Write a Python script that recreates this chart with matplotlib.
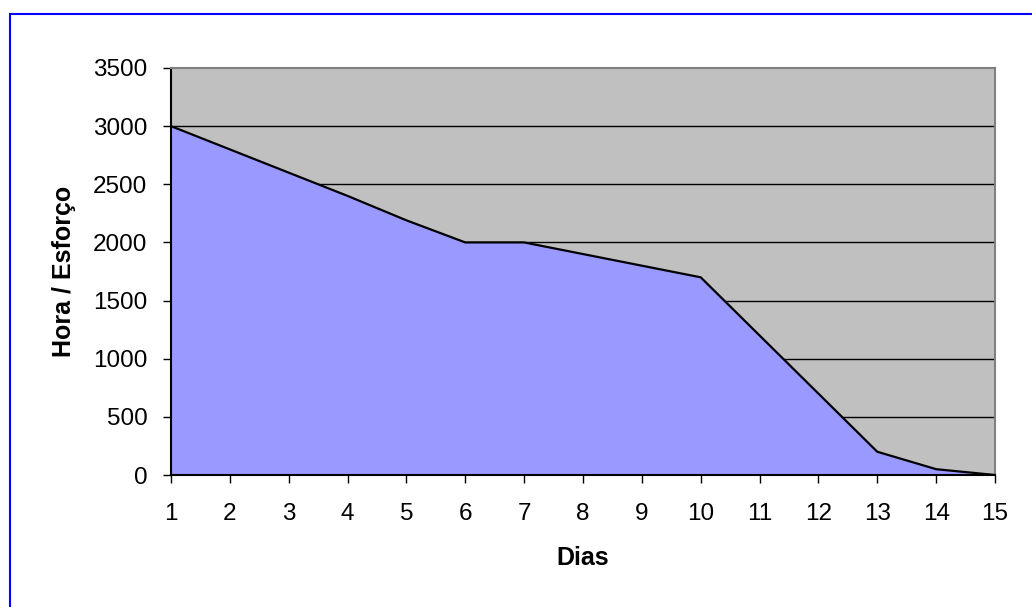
import matplotlib
matplotlib.use('Agg')
import matplotlib.pyplot as plt
from matplotlib.patches import Rectangle

# burndown data
dias = [1, 2, 3, 4, 5, 6, 7, 8, 9, 10, 11, 12, 13, 14, 15]
esforco = [3000, 2800, 2600, 2400, 2190, 2000, 2000, 1900, 1800, 1700, 1200, 700, 200, 50, 0]
y_ticks = [0, 500, 1000, 1500, 2000, 2500, 3000, 3500]

plt.rcParams['font.family'] = ['Liberation Sans', 'DejaVu Sans']

fig = plt.figure(figsize=(10.32, 6.07), dpi=100)
ax = fig.add_axes([171/1032, 1 - 475/607, (995 - 171)/1032, (475 - 68)/607])

# blue outer frame
fig.patches.append(Rectangle((10/1032, -0.1), 1.1, 1 - 14/607 + 0.1,
                             transform=fig.transFigure, fill=False,
                             edgecolor='#0000FF', linewidth=1.5))

ax.set_facecolor('#C0C0C0')
for y in y_ticks[1:-1]:
    ax.axhline(y, color='black', linewidth=1.0, zorder=1)
ax.fill_between(dias, esforco, 0, color='#9999FF', zorder=2, linewidth=0)
ax.plot(dias, esforco, color='black', linewidth=1.6, zorder=3)

ax.set_xlim(1, 15)
ax.set_ylim(0, 3500)
ax.set_xticks(dias)
ax.set_yticks(y_ticks)
ax.tick_params(axis='both', direction='out', length=6, width=1, labelsize=17.5, colors='black')
ax.tick_params(axis='x', pad=14)
ax.tick_params(axis='y', pad=11)

for s in ['top', 'right']:
    ax.spines[s].set_color('#808080')
    ax.spines[s].set_linewidth(1.5)
for s in ['left', 'bottom']:
    ax.spines[s].set_color('black')
    ax.spines[s].set_linewidth(1.5)

ax.set_xlabel('Dias', fontsize=18, fontweight='bold', va='center')
ax.set_ylabel('Hora / Esforço', fontsize=18, fontweight='bold', va='center')
ax.xaxis.set_label_coords(0.5, (475 - 558) / 407)
ax.yaxis.set_label_coords((64 - 171) / 824, 0.5)

fig.savefig('out.png', dpi=100)
